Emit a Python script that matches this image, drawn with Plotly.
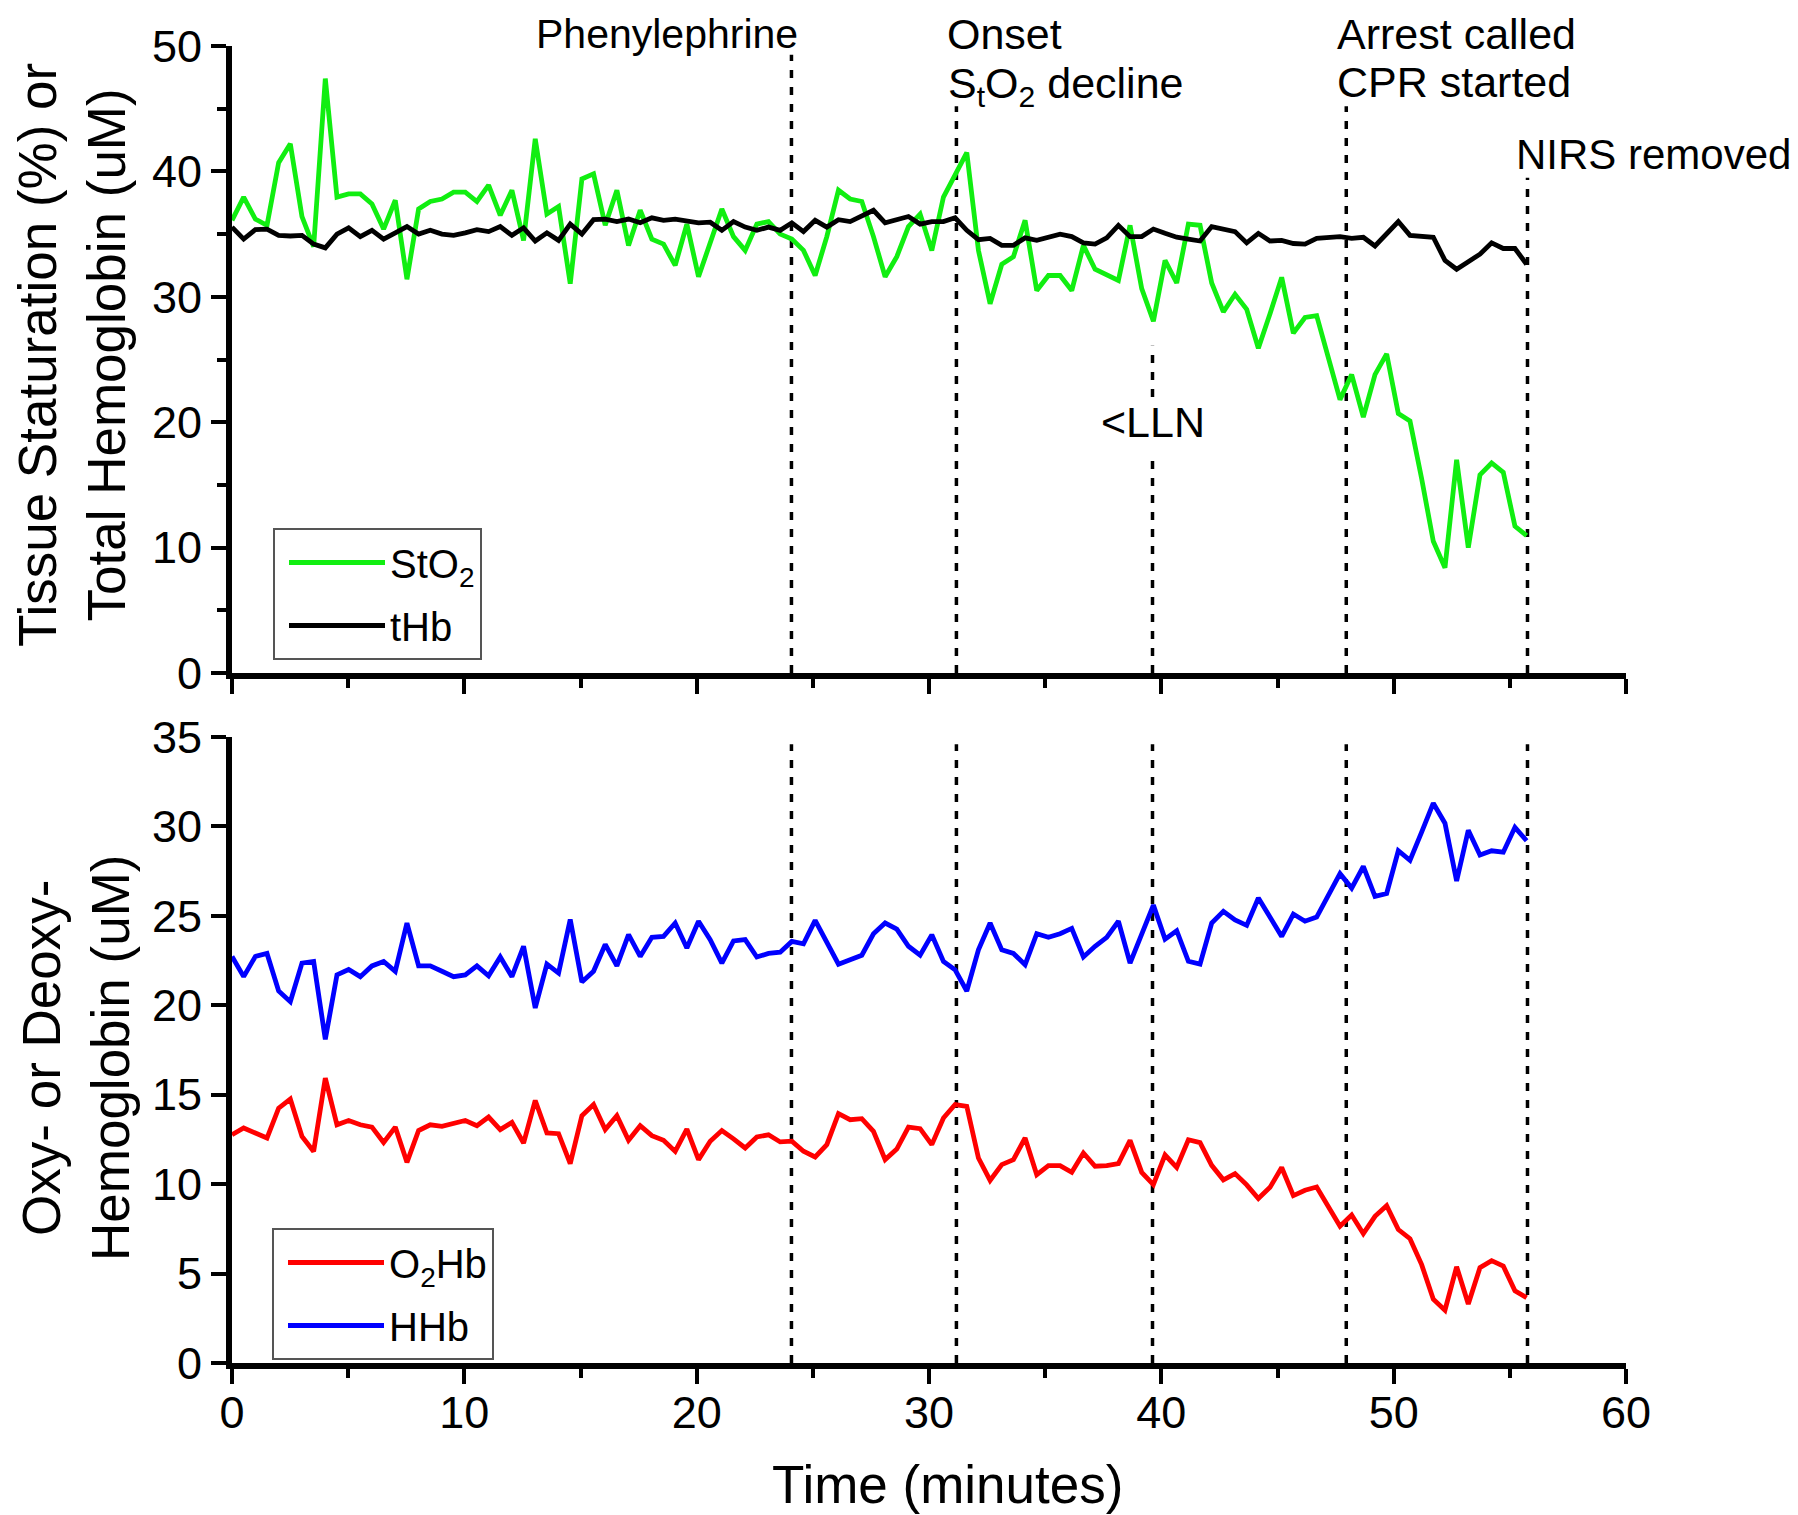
import plotly.graph_objects as go

FONT = "Liberation Sans, Arial, sans-serif"

# ---------------- data ----------------
SAMPLE_INTERVAL_MIN = 0.502  # NIRS sampling interval, minutes

sto2 = [36.1, 37.95, 36.2, 35.7, 40.7, 42.2, 36.4, 34.0, 47.4, 37.95,
        38.2, 38.2, 37.4, 35.4, 37.7, 31.4, 37.0, 37.6, 37.8, 38.35,
        38.35, 37.6, 38.9, 36.5, 38.5, 34.5, 42.6, 36.6, 37.2, 31.05,
        39.4, 39.8, 35.7, 38.5, 34.1, 36.9, 34.6, 34.2, 32.5, 35.8,
        31.6, 34.2, 37.0, 34.8, 33.7, 35.8, 36.0, 35.0, 34.6, 33.7,
        31.7, 34.8, 38.5, 37.8, 37.6, 34.8, 31.6, 33.2, 35.6, 36.6,
        33.7, 37.95, 39.8, 41.5, 33.7, 29.45, 32.6, 33.2, 36.1, 30.5,
        31.7, 31.7, 30.5, 34.1, 32.2, 31.8, 31.3, 35.7, 30.65, 28.05,
        32.9, 31.1, 35.8, 35.7, 31.1, 28.8, 30.2, 29.0, 25.9, 28.65,
        31.55, 27.1, 28.35, 28.5, 25.3, 21.8, 23.8, 20.4, 23.8, 25.45,
        20.7, 20.1, 15.5, 10.5, 8.4, 17.0, 10.0, 15.8, 16.75, 16.0,
        11.7, 10.95]

thb = [35.56, 34.6, 35.35, 35.4, 34.9, 34.85, 34.9, 34.2, 33.9, 35.0,
       35.5, 34.8, 35.3, 34.6, 35.1, 35.6, 35.0, 35.3, 35.0, 34.9,
       35.1, 35.35, 35.2, 35.6, 34.9, 35.5, 34.45, 35.1, 34.5, 35.8,
       35.0, 36.15, 36.2, 36.0, 36.2, 35.9, 36.3, 36.1, 36.2, 36.05,
       35.9, 35.95, 35.3, 36.0, 35.56, 35.3, 35.56, 35.3, 35.9, 35.2,
       36.1, 35.56, 36.15, 36.0, 36.4, 36.9, 35.9, 36.15, 36.4, 35.8,
       36.0, 36.0, 36.3, 35.3, 34.55, 34.66, 34.1, 34.1, 34.7, 34.5,
       34.8, 35.0, 34.8, 34.3, 34.2, 34.7, 35.7, 34.8, 34.8, 35.4,
       35.06, 34.75, 34.6, 34.45, 35.6, 35.36, 35.2, 34.3, 35.06, 34.45,
       34.5, 34.25, 34.2, 34.66, 34.75, 34.8, 34.66, 34.75, 34.05, 35.06,
       36.0, 34.9, 34.85, 34.75, 32.9, 32.2, 32.8, 33.4, 34.3, 33.85,
       33.85, 32.6]

o2hb = [12.76, 13.14, 12.86, 12.58, 14.25, 14.76, 12.67, 11.83, 15.93, 13.32,
        13.56, 13.32, 13.19, 12.33, 13.19, 11.22, 13.0, 13.32, 13.23, 13.42,
        13.56, 13.27, 13.75, 13.05, 13.45, 12.3, 14.68, 12.86, 12.82, 11.15,
        13.83, 14.45, 13.05, 13.83, 12.45, 13.27, 12.71, 12.45, 11.83, 13.08,
        11.37, 12.4, 13.0, 12.53, 12.02, 12.64, 12.76, 12.36, 12.4, 11.84,
        11.52, 12.21, 13.94, 13.6, 13.66, 12.95, 11.37, 11.96, 13.19, 13.1,
        12.21, 13.7, 14.45, 14.35, 11.46, 10.21, 11.09, 11.37, 12.58, 10.53,
        11.03, 11.03, 10.66, 11.74, 11.0, 11.03, 11.15, 12.45, 10.66, 9.97,
        11.63, 10.93, 12.48, 12.32, 11.05, 10.24, 10.59, 9.96, 9.2, 9.82,
        10.93, 9.36, 9.66, 9.84, 8.73, 7.65, 8.27, 7.23, 8.2, 8.8,
        7.46, 6.95, 5.5, 3.57, 2.95, 5.38, 3.3, 5.33, 5.72, 5.42,
        4.04, 3.65]

hhb = [22.73, 21.6, 22.73, 22.9, 20.8, 20.2, 22.36, 22.45, 18.1, 21.7,
       22.0, 21.6, 22.2, 22.45, 21.9, 24.6, 22.2, 22.2, 21.9, 21.6,
       21.7, 22.2, 21.65, 22.7, 21.6, 23.3, 19.85, 22.3, 21.8, 24.8,
       21.3, 21.9, 23.4, 22.2, 23.95, 22.73, 23.8, 23.85, 24.6, 23.2,
       24.7, 23.67, 22.36, 23.6, 23.67, 22.7, 22.9, 22.97, 23.57, 23.44,
       24.75, 23.57, 22.3, 22.55, 22.8, 24.0, 24.6, 24.26, 23.3, 22.8,
       23.94, 22.45, 21.98, 20.8, 23.1, 24.6, 23.1, 22.9, 22.27, 24.0,
       23.8, 24.0, 24.3, 22.7, 23.3, 23.8, 24.7, 22.36, 24.0, 25.6,
       23.7, 24.17, 22.46, 22.3, 24.6, 25.25, 24.77, 24.47, 26.0, 24.86,
       23.85, 25.1, 24.7, 24.93, 26.16, 27.36, 26.55, 27.76, 26.09, 26.25,
       28.64, 28.1, 29.68, 31.3, 30.18, 26.95, 29.79, 28.4, 28.64, 28.56,
       29.95, 29.2]

time_min = [round(i * SAMPLE_INTERVAL_MIN, 3) for i in range(len(sto2))]

# clinical event times (minutes)
event_names = ["Phenylephrine", "Onset", "LLN", "Arrest", "NIRS removed"]
event_times = [24.08, 31.18, 39.62, 47.96, 55.76]

# ---------------- geometry ----------------
OFF = 8                       # default page body margin
W, H = 1790, 1507
ML, MR, MT, MB = 224, 172, 38, 152
PW, PH = W - ML - MR, H - MT - MB


def px_x(p):
    """window pixel x -> paper x"""
    return (p - OFF - ML) / PW


def px_y(p):
    """window pixel y -> paper y"""
    return (H - MB - (p - OFF)) / PH


# ---------------- figure ----------------
fig = go.Figure()

evt_line = dict(color="black", width=3.5, dash="8px,9px")

top_extents = {
    "Phenylephrine": [(0, 49.3)],
    "Onset": [(0, 45.2)],
    "LLN": [(0, 17.5), (22.0, 26.1)],
    "Arrest": [(0, 45.2)],
    "NIRS removed": [(0, 39.5)],
}
for name, t in zip(event_names, event_times):
    xs, ys = [], []
    for (a, b) in top_extents[name]:
        xs += [t, t, None]
        ys += [a, b, None]
    fig.add_trace(go.Scatter(x=xs, y=ys, mode="lines", line=evt_line,
                             showlegend=False, hoverinfo="skip",
                             xaxis="x", yaxis="y"))
    fig.add_trace(go.Scatter(x=[t, t], y=[0, 34.6], mode="lines", line=evt_line,
                             showlegend=False, hoverinfo="skip",
                             xaxis="x2", yaxis="y2"))

LW = 4.8
fig.add_trace(go.Scatter(x=time_min, y=sto2, mode="lines", name="StO<sub>2</sub>",
                         line=dict(color="#11ee11", width=LW),
                         xaxis="x", yaxis="y", legend="legend", legendgroup="a"))
fig.add_trace(go.Scatter(x=time_min, y=thb, mode="lines", name="tHb",
                         line=dict(color="black", width=LW),
                         xaxis="x", yaxis="y", legend="legend", legendgroup="b"))
fig.add_trace(go.Scatter(x=time_min, y=o2hb, mode="lines", name="O<sub>2</sub>Hb",
                         line=dict(color="#ff0000", width=LW),
                         xaxis="x2", yaxis="y2", legend="legend2", legendgroup="c"))
fig.add_trace(go.Scatter(x=time_min, y=hhb, mode="lines", name="HHb",
                         line=dict(color="#0000ff", width=LW),
                         xaxis="x2", yaxis="y2", legend="legend2", legendgroup="d"))

tickfont = dict(family=FONT, size=45, color="black")
axis_common = dict(showline=True, linecolor="black", linewidth=6,
                   ticks="outside", ticklen=15, tickwidth=4, tickcolor="black",
                   showgrid=False, zeroline=False, tickfont=tickfont)
minor_x = dict(dtick=5, tick0=0, ticks="outside", ticklen=9, tickwidth=4,
               tickcolor="black", showgrid=False)

legend_common = dict(xanchor="left", yanchor="top", bgcolor="white",
                     bordercolor="#555", borderwidth=2,
                     font=dict(family=FONT, size=40, color="black"),
                     itemwidth=96, tracegroupgap=8, indentation=9)

fig.update_layout(
    width=W, height=H,
    margin=dict(l=ML, r=MR, t=MT, b=MB),
    paper_bgcolor="white", plot_bgcolor="white",
    font=dict(family=FONT, color="black"),
    xaxis=dict(domain=[0, 1], range=[0, 60], dtick=10, tick0=0, anchor="y",
               showticklabels=False, minor=minor_x, **axis_common),
    yaxis=dict(domain=[px_y(673), 1], range=[0, 50], dtick=10, tick0=0, anchor="x",
               minor=dict(dtick=5, tick0=0, ticks="outside", ticklen=9, tickwidth=4,
                          tickcolor="black", showgrid=False),
               **axis_common),
    xaxis2=dict(domain=[0, 1], range=[0, 60], dtick=10, tick0=0, anchor="y2",
                minor=minor_x, ticklabelstandoff=-10, **axis_common),
    yaxis2=dict(domain=[0, px_y(737)], range=[0, 35], dtick=5, tick0=0, anchor="x2",
                **axis_common),
    legend=dict(x=px_x(273), y=px_y(528), **legend_common),
    legend2=dict(x=px_x(272), y=px_y(1228), **legend_common),
    showlegend=True,
)

title_font = dict(family=FONT, size=53, color="black")
ann_font = dict(family=FONT, size=43, color="black")
ann_font_small = dict(family=FONT, size=41, color="black")
ann_font_nirs = dict(family=FONT, size=42, color="black")

annotations = [
    # axis titles
    dict(text="Tissue Staturation (%) or<br>Total Hemoglobin (uM)", textangle=-90,
         xref="paper", yref="paper", x=px_x(72), y=px_y(355),
         xanchor="center", yanchor="middle", showarrow=False, font=title_font),
    dict(text="Oxy- or Deoxy-<br>Hemoglobin (uM)", textangle=-90,
         xref="paper", yref="paper", x=px_x(76), y=px_y(1058),
         xanchor="center", yanchor="middle", showarrow=False, font=title_font),
    dict(text="Time (minutes)", xref="paper", yref="paper",
         x=px_x(947), y=px_y(1484), xanchor="center", yanchor="middle",
         showarrow=False, font=title_font),
    # event labels
    dict(text="Phenylephrine", xref="x", yref="paper", x=event_times[0], y=px_y(34),
         xanchor="right", yanchor="middle", xshift=9, showarrow=False,
         font=ann_font_small),
    dict(text="Onset", xref="x", yref="paper", x=event_times[1], y=px_y(34),
         xanchor="left", yanchor="middle", xshift=-11, showarrow=False, font=ann_font),
    dict(text="S<sub>t</sub>O<sub>2</sub> decline", xref="x", yref="paper",
         x=event_times[1], y=px_y(86), xanchor="left", yanchor="middle", xshift=-10,
         showarrow=False, font=ann_font),
    dict(text="&lt;LLN", xref="x", yref="paper", x=event_times[2], y=px_y(422),
         xanchor="center", yanchor="middle", showarrow=False, font=ann_font),
    dict(text="Arrest called", xref="x", yref="paper", x=event_times[3], y=px_y(34),
         xanchor="left", yanchor="middle", xshift=-11, showarrow=False, font=ann_font),
    dict(text="CPR started", xref="x", yref="paper", x=event_times[3], y=px_y(82),
         xanchor="left", yanchor="middle", xshift=-11, showarrow=False, font=ann_font),
    dict(text="NIRS removed", xref="x", yref="paper", x=event_times[4], y=px_y(154),
         xanchor="left", yanchor="middle", xshift=-13, showarrow=False,
         font=ann_font_nirs),
]
fig.update_layout(annotations=annotations)

fig.write_html("out.html")
